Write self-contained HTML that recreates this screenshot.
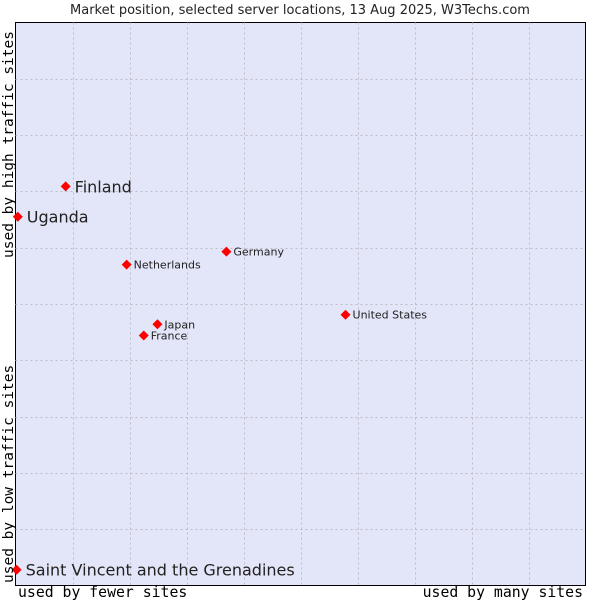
<!DOCTYPE html>
<html><head><meta charset="utf-8"><style>
body{margin:0;background:#fff;}
svg{display:block;font-family:"DejaVu Sans","Liberation Sans",sans-serif;}
</style></head><body>
<svg id="chart" width="600" height="600" viewBox="0 0 600 600">
<text x="300" y="14" text-anchor="middle" font-size="13" fill="#222">Market position, selected server locations, 13 Aug 2025, W3Techs.com</text>
<rect x="15.5" y="22.5" width="570" height="563" fill="#e3e5f8" stroke="#000" stroke-width="1"/>
<g id="grid"></g>
<g id="points"></g>
<text transform="translate(13,258) rotate(-90)" font-family="DejaVu Sans Mono,Liberation Mono,monospace" font-size="14.5" fill="#000">used by high traffic sites</text>
<text transform="translate(13,583) rotate(-90)" font-family="DejaVu Sans Mono,Liberation Mono,monospace" font-size="14.5" fill="#000">used by low traffic sites</text>
<text x="18" y="597" font-family="DejaVu Sans Mono,Liberation Mono,monospace" font-size="14.8" fill="#000">used by fewer sites</text>
<text x="583" y="597" text-anchor="end" font-family="DejaVu Sans Mono,Liberation Mono,monospace" font-size="14.8" fill="#000">used by many sites</text>
</svg>
<script>
const names = ["Finland","Uganda","Netherlands","Germany","United States","Japan","France","Saint Vincent and the Grenadines"];
const xValues = [8.8,0.4,19.5,37.0,57.9,24.9,22.5,0.2];
const yValues = [70.9,65.5,57.0,59.3,48.1,46.4,44.4,2.8];
const bigLabel = [true,true,false,false,false,false,false,true];
const L=15.5,R=585.5,T=22.5,B=585.5;
const sx=v=>L+(R-L)*v/100, sy=v=>B-(B-T)*v/100;
const NS="http://www.w3.org/2000/svg";
const grid=document.getElementById('grid');
for(let i=1;i<10;i++){
  const v=document.createElementNS(NS,'line');
  
  
  const x=Math.round(sx(i*10))+0.5;
  v.setAttribute('x1',x);v.setAttribute('x2',x);v.setAttribute('y1',T);v.setAttribute('y2',B);
  v.setAttribute('stroke','#bdbdc4');v.setAttribute('stroke-dasharray','2,3');
  grid.appendChild(v);
  const h=document.createElementNS(NS,'line');
  
  
  const y=Math.round(sy(i*10))+0.5;
  h.setAttribute('y1',y);h.setAttribute('y2',y);h.setAttribute('x1',L);h.setAttribute('x2',R);
  h.setAttribute('stroke','#bdbdc4');h.setAttribute('stroke-dasharray','2,3');
  grid.appendChild(h);
}
const pts=document.getElementById('points');
names.forEach((n,i)=>{
  const x=sx(xValues[i]),y=sy(yValues[i]);
  const d=document.createElementNS(NS,'path');
  
  
  d.setAttribute('d',`M${x-5},${y}L${x},${y-5}L${x+5},${y}L${x},${y+5}Z`);
  d.setAttribute('fill','#f00');
  pts.appendChild(d);
  const t=document.createElementNS(NS,'text');
  
  
  t.setAttribute('x',x+(bigLabel[i]?9:7));
  t.setAttribute('y',y+(bigLabel[i]?6:4));
  t.setAttribute('font-size',bigLabel[i]?16:11);
  t.setAttribute('fill','#222');
  t.textContent=n;
  pts.appendChild(t);
});
</script>
</body></html>
